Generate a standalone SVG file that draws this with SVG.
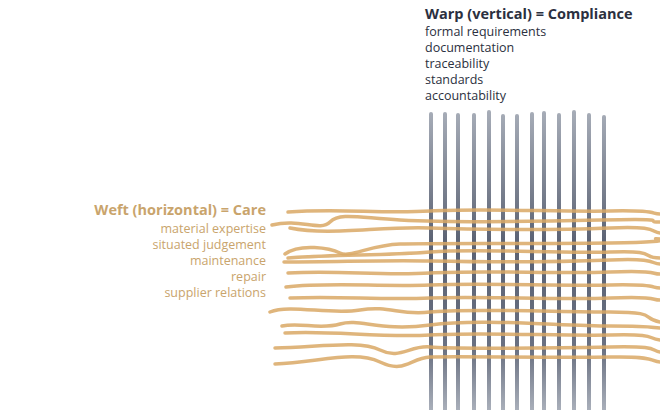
<svg xmlns="http://www.w3.org/2000/svg" width="660" height="410" viewBox="0 0 660 410">
<defs>
<linearGradient id="wg" x1="0" y1="110" x2="0" y2="410" gradientUnits="userSpaceOnUse">
<stop offset="0" stop-color="#a7adb8"/><stop offset="0.45" stop-color="#5a6172"/><stop offset="0.8" stop-color="#6a7182"/><stop offset="1" stop-color="#a9afba"/>
</linearGradient>
</defs>
<style>
.t{font-family:"Open Sans","Liberation Sans",sans-serif}
.wt{font-size:14.5px;font-weight:bold;fill:#2b3040}
.wl{font-size:12.5px;fill:#2b3040}
.ft{font-size:14.5px;font-weight:bold;fill:#c9a46c;text-anchor:end}
.fl{font-size:12.5px;fill:#c9a46c;text-anchor:end}
.warp{stroke:url(#wg);stroke-width:4;stroke-linecap:round;fill:none}
.weft{stroke:#d9a865;stroke-width:3.5;stroke-linecap:round;fill:none;opacity:.85}
</style>
<g id="warp-label">
<text class="t wt" x="425" y="19">Warp (vertical) = Compliance</text>
<text class="t wl" x="425" y="36">formal requirements</text>
<text class="t wl" x="425" y="52">documentation</text>
<text class="t wl" x="425" y="68">traceability</text>
<text class="t wl" x="425" y="84">standards</text>
<text class="t wl" x="425" y="100">accountability</text>
</g>
<g id="weft-label">
<text class="t ft" x="266" y="215">Weft (horizontal) = Care</text>
<text class="t fl" x="266" y="233">material expertise</text>
<text class="t fl" x="266" y="249">situated judgement</text>
<text class="t fl" x="266" y="265">maintenance</text>
<text class="t fl" x="266" y="281">repair</text>
<text class="t fl" x="266" y="297">supplier relations</text>
</g>
<g id="warp">
<path class="warp" d="M431 114V410"/><path class="warp" d="M445 114V410"/><path class="warp" d="M458 115V410"/>
<path class="warp" d="M474 115V410"/><path class="warp" d="M489 112V410"/><path class="warp" d="M503 116V410"/>
<path class="warp" d="M517 116V410"/><path class="warp" d="M532 114V410"/><path class="warp" d="M544 113V410"/>
<path class="warp" d="M559 115V410"/><path class="warp" d="M574 112V410"/><path class="warp" d="M589 115V410"/>
<path class="warp" d="M604 117V410"/>
</g>
<g id="weft">
<path class="weft" d="M288 212C340 208 380 214 430 211S560 212 610 211S650 214 660 214"/>
<path class="weft" d="M272 225C300 218 320 232 330 222S360 218 400 220S520 222 600 220S640 222 660 222"/>
<path class="weft" d="M290 228C330 236 380 226 430 228S560 230 610 228S650 232 660 233"/>
<path class="weft" d="M285 254C300 243 330 248 340 253S370 245 400 244S520 244 610 243S640 236 660 240"/>
<path class="weft" d="M288 258C340 254 380 256 430 252S560 254 610 252S640 258 660 258"/>
<path class="weft" d="M284 262C340 262 380 260 430 261S560 262 610 260S650 264 660 264"/>
<path class="weft" d="M288 273C340 270 380 276 430 273S560 274 610 272S650 274 660 274"/>
<path class="weft" d="M286 287C330 282 380 287 430 285S560 286 610 285S650 288 660 288"/>
<path class="weft" d="M290 298C340 296 380 300 430 298S560 300 610 298S650 300 660 300"/>
<path class="weft" d="M270 312C290 304 330 315 360 310S400 316 430 312S560 312 610 312S640 318 660 322"/>
<path class="weft" d="M282 326C300 322 320 330 340 324S380 332 430 325S560 326 610 326S650 328 660 328"/>
<path class="weft" d="M285 333C330 330 380 338 430 335S560 336 610 335S645 338 660 340"/>
<path class="weft" d="M275 348C320 347 360 340 380 350S410 345 430 347S560 348 610 347S650 350 660 352"/>
<path class="weft" d="M275 364C320 362 355 350 380 362S410 358 430 357S560 358 610 357S650 362 660 362"/>
</g>
</svg>
